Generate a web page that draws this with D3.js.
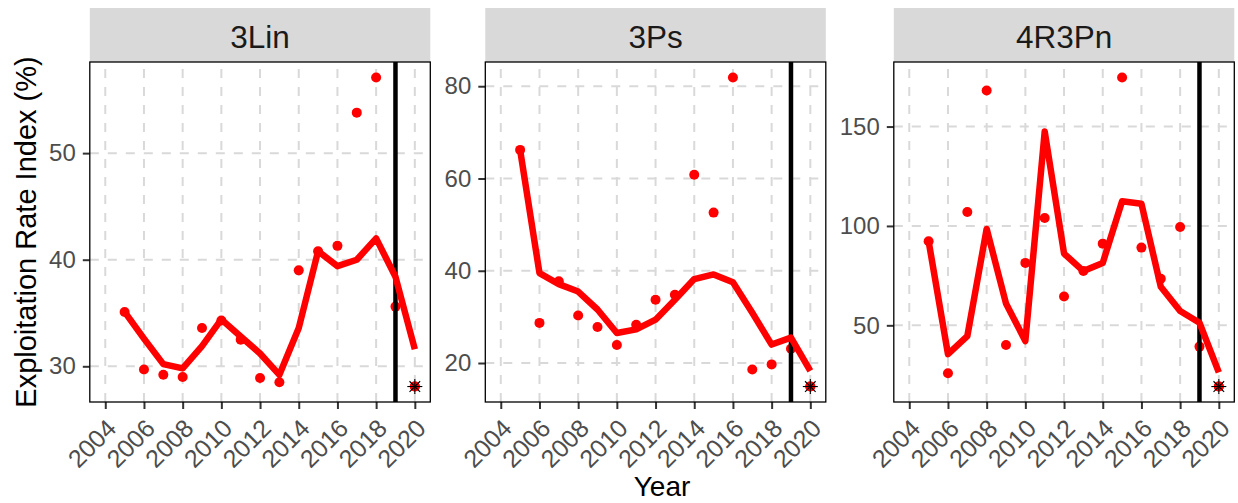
<!DOCTYPE html>
<html>
<head>
<meta charset="utf-8">
<script src="https://cdn.jsdelivr.net/npm/d3@7"></script>
<style>
  body { margin: 0; background: #fff; }
  svg { display: block; }
  text { font-family: "Liberation Sans", Arial, sans-serif; }
</style>
</head>
<body>
<svg id="chart" width="1238" height="503"></svg>
<script>
// Survey years and stock areas
const years = [2005, 2006, 2007, 2008, 2009, 2010, 2011, 2012, 2013, 2014, 2015, 2016, 2017, 2018, 2019, 2020];
const regions = ["3Lin", "3Ps", "4R3Pn"];

// Annual exploitation rate index (%) per area
const lin3Index  = [35.1, 29.7, 29.2, 29.0, 33.6, 34.3, 32.5, 28.9, 28.5, 39.0, 40.8, 41.3, 53.8, 57.1, 35.6, 28.1];
const ps3Index   = [66.2, 28.7, 37.7, 30.3, 27.8, 23.9, 28.3, 33.7, 34.8, 60.8, 52.6, 81.9, 18.6, 19.7, 23.1, 14.9];
const pn4r3Index = [92.3, 25.9, 107.0, 168.1, 40.1, 81.4, 104.0, 64.5, 77.3, 91.1, 174.7, 89.1, 73.4, 99.5, 39.3, 19.2];

// Smoothed trend of the index per area
const lin3Trend  = [35.1, 32.6, 30.2, 29.8, 31.9, 34.4, 32.8, 31.2, 29.2, 33.6, 40.8, 39.4, 40.0, 42.0, 38.4, 31.6];
const ps3Trend   = [66.2, 39.5, 37.1, 35.5, 31.6, 26.5, 27.3, 29.4, 33.7, 38.2, 39.2, 37.5, 30.9, 24.0, 25.5, 18.3];
const pn4r3Trend = [92.3, 35.5, 44.6, 98.5, 61.0, 42.1, 147.5, 86.1, 77.3, 81.4, 112.4, 111.2, 69.4, 57.2, 51.3, 26.3];

// Axis breaks
const xTicks = [2004, 2006, 2008, 2010, 2012, 2014, 2016, 2018, 2020];
const lin3YTicks  = [30, 40, 50];
const ps3YTicks   = [20, 40, 60, 80];
const pn4r3YTicks = [50, 100, 150];

// Last year of the assessment period
const referenceYear = 2019;

const panels = [
  { name: regions[0], index: lin3Index,  trend: lin3Trend,  yTicks: lin3YTicks,  left: 89.8 },
  { name: regions[1], index: ps3Index,   trend: ps3Trend,   yTicks: ps3YTicks,   left: 485.3 },
  { name: regions[2], index: pn4r3Index, trend: pn4r3Trend, yTicks: pn4r3YTicks, left: 893.8 }
];

const svg = d3.select("#chart");
const panelW = 340.5, panelTop = 62, panelBottom = 402, stripTop = 8;
const red = "#ff0000";

function padded(ext) {
  const p = (ext[1] - ext[0]) * 0.05;
  return [ext[0] - p, ext[1] + p];
}

const xDomain = padded(d3.extent(xTicks));

panels.forEach(p => {
  const x = d3.scaleLinear().domain(xDomain).range([p.left, p.left + panelW]);
  const y = d3.scaleLinear().domain(padded(d3.extent(p.index))).range([panelBottom, panelTop]);
  const g = svg.append("g");

  // strip
  g.append("rect").attr("x", p.left).attr("y", stripTop)
    .attr("width", panelW).attr("height", panelTop - stripTop).attr("fill", "#d9d9d9");
  g.append("text").attr("x", p.left + panelW / 2).attr("y", 48)
    .attr("text-anchor", "middle").attr("font-size", 31.5).attr("fill", "#1a1a1a").text(p.name);

  // grid
  const grid = g.append("g").attr("stroke", "#d9d9d9").attr("stroke-width", 2)
    .attr("stroke-dasharray", "9,9");
  grid.selectAll(".gx").data(xTicks).join("line")
    .attr("x1", d => x(d)).attr("x2", d => x(d))
    .attr("y1", panelBottom).attr("y2", panelTop);
  grid.selectAll(".gy").data(p.yTicks).join("line")
    .attr("y1", d => y(d)).attr("y2", d => y(d))
    .attr("x1", p.left).attr("x2", p.left + panelW);

  // axes
  const xAxis = g.append("g").attr("transform", `translate(0,${panelBottom})`)
    .call(d3.axisBottom(x).tickValues(xTicks).tickFormat(d3.format("d")).tickSize(7).tickPadding(0));
  xAxis.select(".domain").remove();
  xAxis.selectAll(".tick line").attr("stroke", "#333333").attr("stroke-width", 2);
  xAxis.selectAll(".tick text")
    .attr("font-size", 25).attr("fill", "#4d4d4d").attr("font-family", "Liberation Sans, Arial, sans-serif")
    .attr("text-anchor", "end").attr("dy", null).attr("y", null)
    .attr("transform", "translate(12,28) rotate(-45)");

  const yAxis = g.append("g").attr("transform", `translate(${p.left},0)`)
    .call(d3.axisLeft(y).tickValues(p.yTicks).tickFormat(d3.format("d")).tickSize(7).tickPadding(7));
  yAxis.select(".domain").remove();
  yAxis.selectAll(".tick line").attr("stroke", "#333333").attr("stroke-width", 2);
  yAxis.selectAll(".tick text")
    .attr("font-size", 24).attr("fill", "#4d4d4d").attr("font-family", "Liberation Sans, Arial, sans-serif");

  // index points
  g.append("g").selectAll("circle").data(years.map((yr, i) => [yr, p.index[i]])).join("circle")
    .attr("cx", d => x(d[0])).attr("cy", d => y(d[1])).attr("r", 5).attr("fill", red);

  // reference year
  g.append("line").attr("x1", x(referenceYear)).attr("x2", x(referenceYear))
    .attr("y1", panelTop).attr("y2", panelBottom).attr("stroke", "#000").attr("stroke-width", 4.5);

  // trend
  g.append("path").datum(years.map((yr, i) => [yr, p.trend[i]]))
    .attr("d", d3.line().x(d => x(d[0])).y(d => y(d[1])))
    .attr("fill", "none").attr("stroke", red).attr("stroke-width", 6.5)
    .attr("stroke-linejoin", "round");

  // latest year marker
  const last = years.length - 1;
  const sx = x(years[last]), sy = y(p.index[last]);
  g.append("circle").attr("cx", sx).attr("cy", sy).attr("r", 5).attr("fill", red);
  const star = g.append("g").attr("stroke", "#000").attr("stroke-width", 1.1);
  const a = 7.5, b = a * 0.7071;
  [[-a, 0, a, 0], [0, -a, 0, a], [-b, -b, b, b], [-b, b, b, -b]].forEach(s => {
    star.append("line").attr("x1", sx + s[0]).attr("y1", sy + s[1]).attr("x2", sx + s[2]).attr("y2", sy + s[3]);
  });

  // panel border
  g.append("rect").attr("x", p.left).attr("y", panelTop).attr("width", panelW)
    .attr("height", panelBottom - panelTop).attr("fill", "none").attr("stroke", "#000").attr("stroke-width", 1.3);
});

// axis titles
svg.append("text").attr("transform", "translate(36,232) rotate(-90)")
  .attr("text-anchor", "middle").attr("font-size", 29).attr("fill", "#000")
  .text("Exploitation Rate Index (%)");
svg.append("text").attr("x", 662).attr("y", 496)
  .attr("text-anchor", "middle").attr("font-size", 28).attr("fill", "#000").text("Year");
</script>
</body>
</html>
